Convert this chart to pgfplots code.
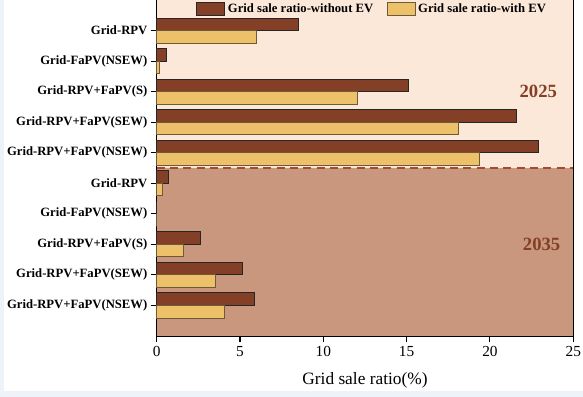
\documentclass[border=0pt]{standalone}
\usepackage{pgfplots}
\pgfplotsset{compat=1.18}
\usepackage{fontspec}
\setmainfont{Liberation Serif}
\definecolor{darkbar}{HTML}{843F27}
\definecolor{yelbar}{HTML}{EDC06A}
\definecolor{topbg}{HTML}{FCE8D9}
\definecolor{botbg}{HTML}{C8977E}
\definecolor{dashc}{HTML}{A44A30}
\definecolor{framebg}{HTML}{EEF3FA}
\definecolor{yeledge}{HTML}{6E5A3A}
\begin{document}
\begin{tikzpicture}[x=0.75pt,y=0.75pt]
\fill[framebg] (0,0) rectangle (583,397);
\fill[white] (4,6) rectangle (583,397);
\useasboundingbox (0,0) rectangle (583,397);
\begin{axis}[
  at={(117.5pt,45.75pt)}, anchor=south west,
  scale only axis, width=312.45pt, height=252pt,
  xmin=0, xmax=25, ymin=0, ymax=11,
  xbar, bar width=9.4pt,
  axis x line*=bottom, axis y line*=left,
  xtick={0,5,10,15,20,25},
  ytick={1,2,3,4,5,6,7,8,9,10},
  yticklabels={Grid-RPV+FaPV(NSEW),Grid-RPV+FaPV(SEW),Grid-RPV+FaPV(S),Grid-FaPV(NSEW),Grid-RPV,Grid-RPV+FaPV(NSEW),Grid-RPV+FaPV(SEW),Grid-RPV+FaPV(S),Grid-FaPV(NSEW),Grid-RPV},
  yticklabel style={font=\bfseries\fontsize{9.5}{11}\selectfont, xshift=1pt},
  xticklabel style={font=\fontsize{11.5}{13}\selectfont},
  /pgf/number format/assume math mode=true,
  tick align=outside, major tick length=4.5pt,
  minor ytick={0.5,1.5,...,10.5}, minor tick length=0pt,
  yminorgrids=true,
  minor grid style={densely dotted, gray!45, line width=0.5pt},
  xlabel={Grid sale ratio(\%)},
  xlabel style={font=\fontsize{13}{15}\selectfont, yshift=-5pt},
  axis line style={black, line width=0.8pt},
  tick style={black, line width=0.8pt},
  legend columns=2,
  legend style={draw=none, fill=none, at={(0.518,0.973)}, anchor=center,
    font=\bfseries\fontsize{9.5}{11}\selectfont,
    /tikz/every even column/.append style={column sep=8pt}},
  legend image code/.code={\draw[#1] (0pt,-5pt) rectangle (21pt,5pt);},
  clip=false,
]
\fill[topbg] (axis cs:0,5.5) rectangle (axis cs:25,11);
\fill[botbg] (axis cs:0,0) rectangle (axis cs:25,5.5);
\draw[dashc, dashed, line width=0.8pt, dash pattern=on 6pt off 4pt] (axis cs:0,5.5) -- (axis cs:25,5.5);
\addplot[fill=darkbar, draw=black!85, line width=0.7pt, bar shift=4.7pt] coordinates {
 (5.84,1) (5.16,2) (2.62,3) (0,4) (0.72,5)
 (22.9,6) (21.6,7) (15.1,8) (0.56,9) (8.5,10)};
\addplot[fill=yelbar, draw=yeledge, line width=0.7pt, bar shift=-4.7pt] coordinates {
 (4.06,1) (3.54,2) (1.62,3) (0,4) (0.34,5)
 (19.35,6) (18.1,7) (12.03,8) (0.16,9) (6.0,10)};
\legend{Grid sale ratio-without EV, Grid sale ratio-with EV}
\node[font=\bfseries\fontsize{14}{16}\selectfont, text=darkbar] at (axis cs:22.9,8) {2025};
\node[font=\bfseries\fontsize{14}{16}\selectfont, text=darkbar] at (axis cs:23.1,3) {2035};
\draw[black, line width=0.8pt] (axis cs:25,0) -- (axis cs:25,11);
\end{axis}
\end{tikzpicture}
\end{document}
